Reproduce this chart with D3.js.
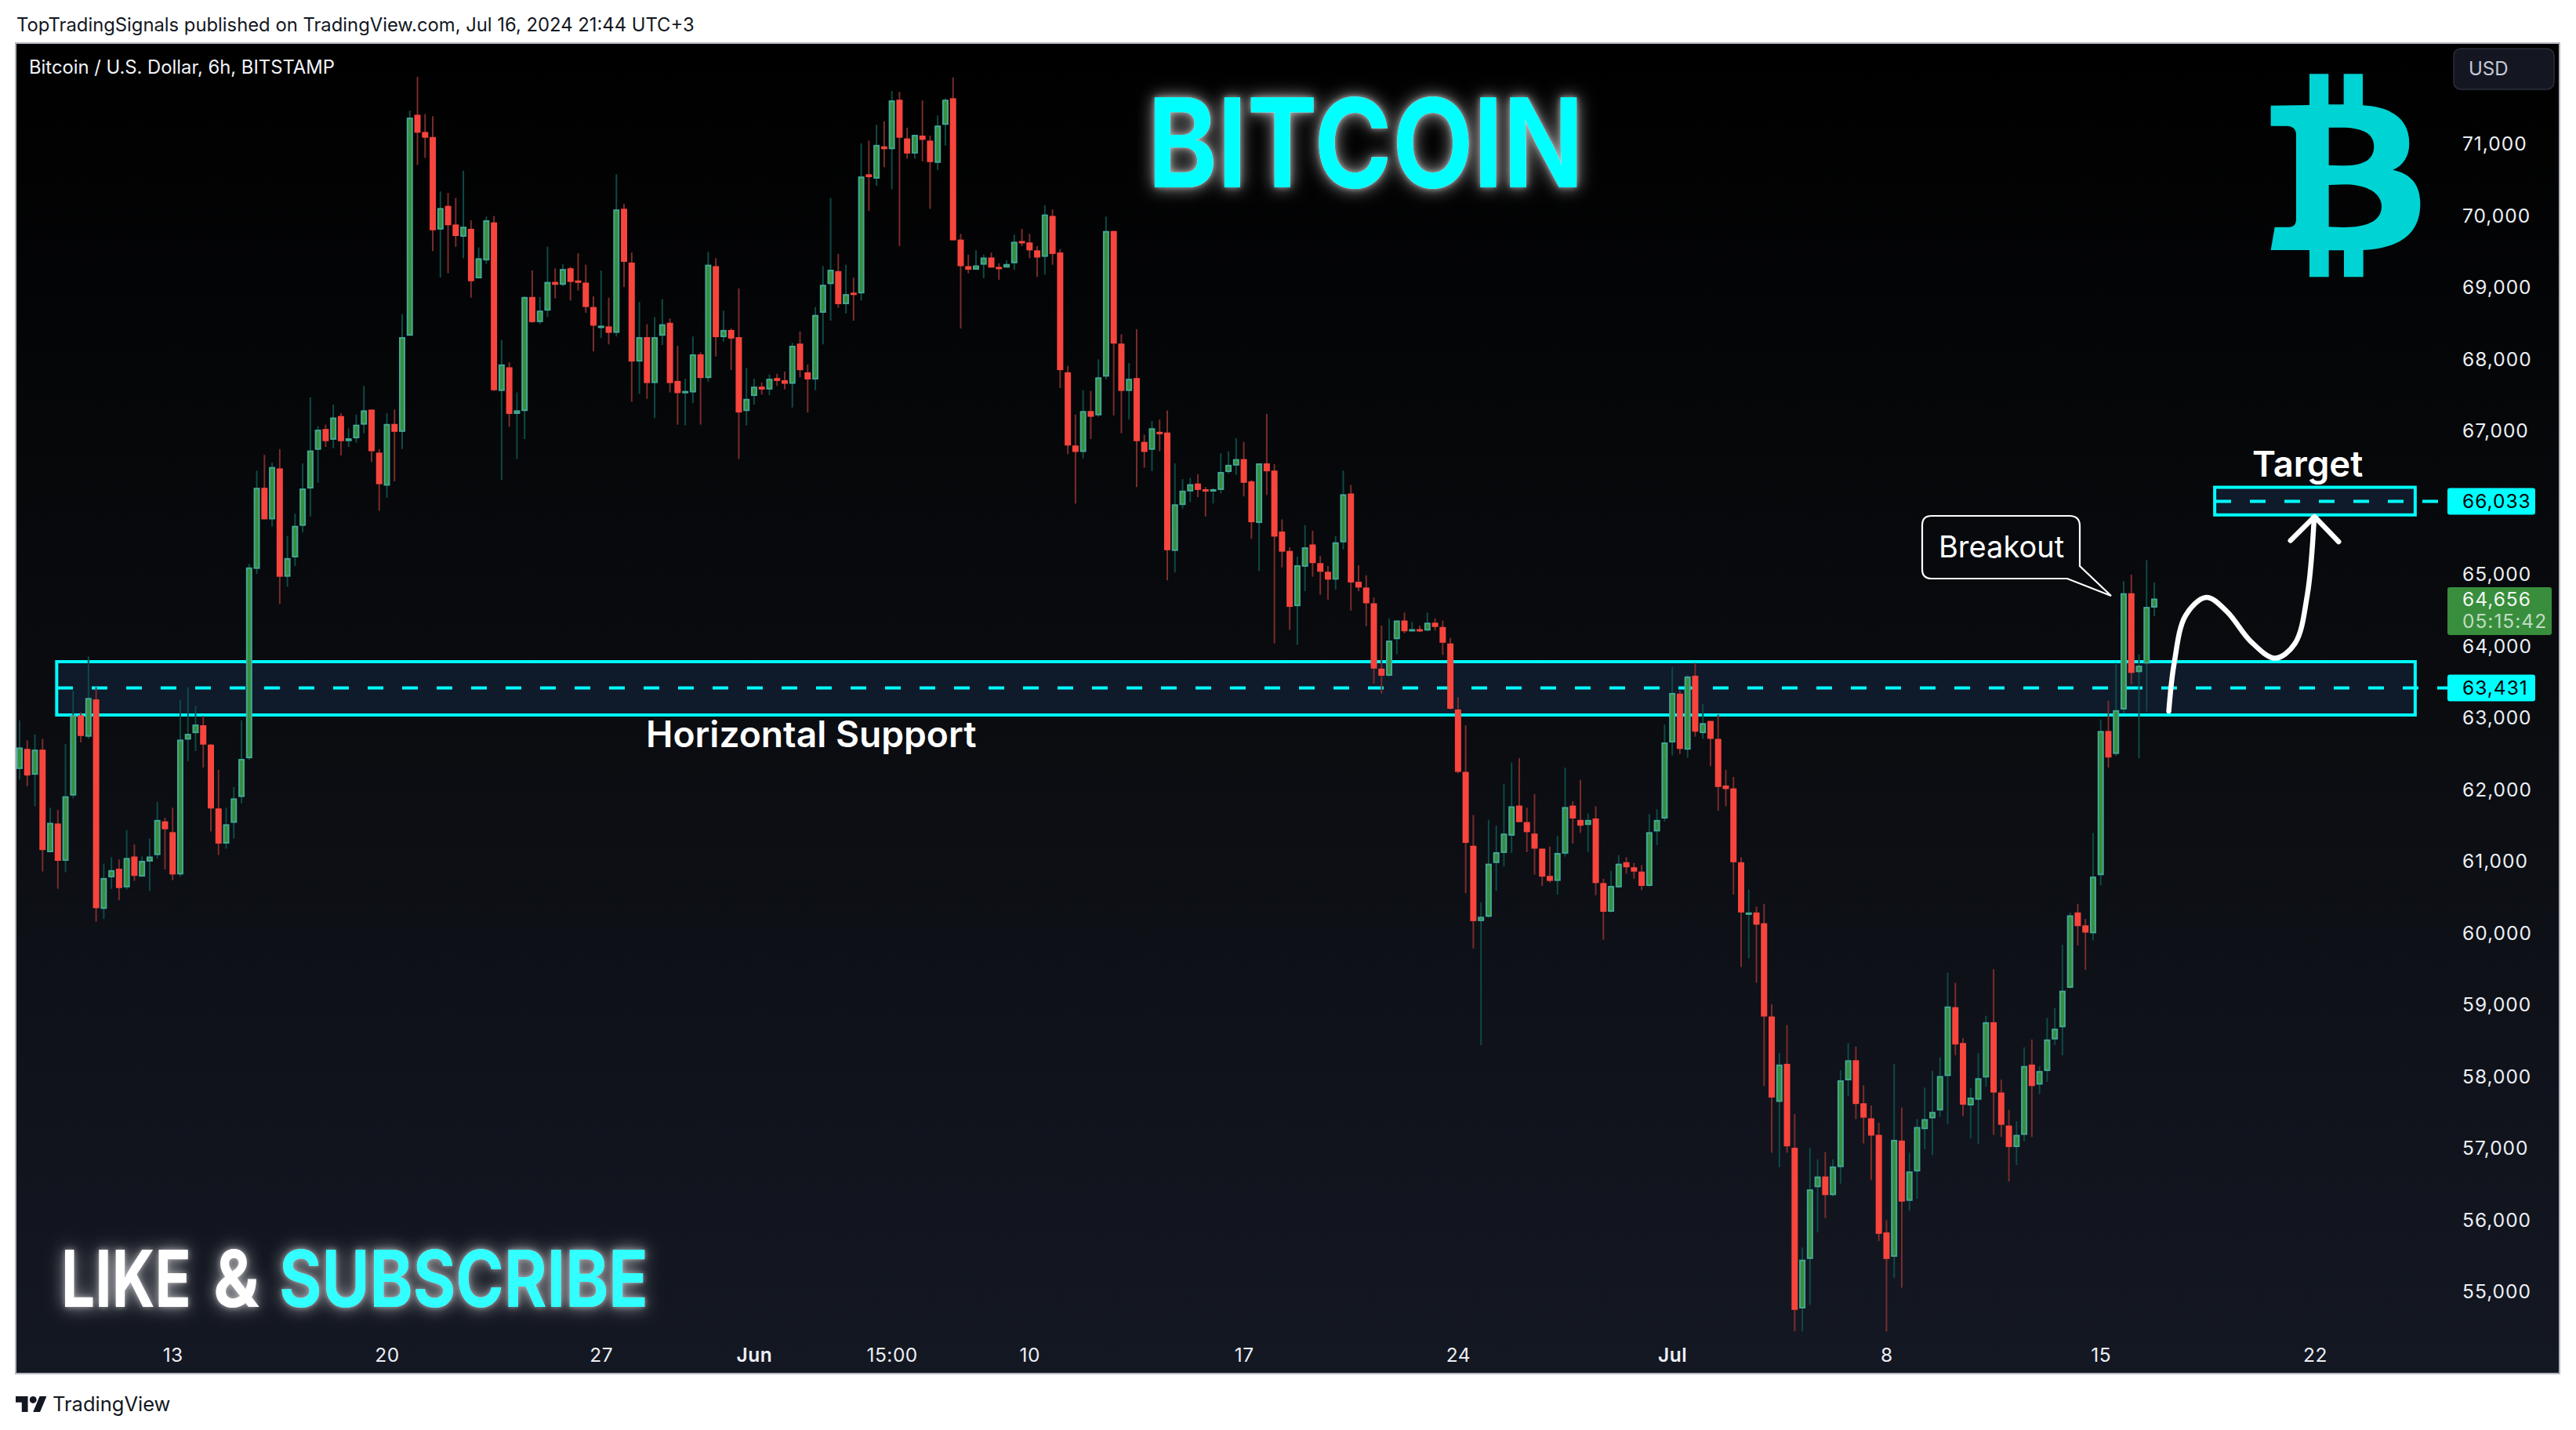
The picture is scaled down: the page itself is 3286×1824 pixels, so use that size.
<!DOCTYPE html>
<html>
<head>
<meta charset="utf-8">
<title>Bitcoin / U.S. Dollar</title>
<script src="https://cdn.jsdelivr.net/npm/d3@7/dist/d3.min.js"></script>
<style>
html,body{margin:0;padding:0;background:#fff;overflow:hidden}
svg{display:block}
text{font-family:Inter,"Liberation Sans",sans-serif}
</style>
</head>
<body>
<svg id="c" width="3286" height="1824"></svg>
<script>
const opens=[62280,62560,62200,62550,61120,61520,61000,61910,63030,62730,
63250,60330,60770,60890,60630,61060,60780,60990,61080,61550,
61400,60810,62690,62780,62890,62620,61730,61240,61530,61890,
62430,65070,66200,65760,66470,64960,65230,65670,66190,66730,
67020,66870,67200,66850,66890,67080,67290,66690,66230,67090,
66980,68320,71400,71160,71090,69800,70130,69870,69700,69810,
69120,69370,69900,67550,67880,67230,67270,68860,68510,68670,
69070,69030,69260,69090,69060,68720,68440,68450,68360,70090,
69340,67960,68300,67660,68320,68500,67690,67530,67530,68060,
67730,69290,68300,68400,68300,67270,67480,67610,67570,67730,
67700,67650,68210,67810,67710,68640,69040,69220,68760,68920,
68910,70570,70510,70960,70920,71610,71070,70860,71110,71040,
70730,71260,71630,69660,69290,69240,69310,69410,69280,69270,
69330,69640,69620,69510,69420,69990,69480,67810,66790,66700,
67270,67210,67750,69780,68210,67550,67730,66840,66730,66980,
66970,65320,65960,66150,66260,66180,66160,66170,66420,66510,
66600,66290,65710,66540,66440,65590,65320,64550,65100,65410,
65150,65030,64920,65440,66120,64890,64810,64590,63680,63580,
64090,64350,64210,64230,64210,64320,64260,64030,63110,62240,
61210,60160,60220,60970,61110,61350,61770,61540,61380,61170,
60790,60720,61100,61770,61570,61500,61590,60690,60290,60630,
60980,60910,60850,60650,61410,61590,62650,63330,62550,63580,
62780,62950,62700,62050,62010,60980,60250,60280,60130,58830,
57640,58170,57000,54760,55450,56450,56600,56340,56730,57940,
58220,57620,57410,57180,55820,55480,57100,56260,56670,57260,
57410,57520,58000,58960,58460,57590,57670,57980,58750,57770,
57310,57010,57180,58160,57880,58070,58510,58680,59230,60280,
60100,59990,60800,62810,62490,63110,64730,63630,63750,64530];
const highs=[62960,62680,62760,62700,61740,61710,62630,63370,63070,63850,
63420,60960,61050,61020,61430,61230,61060,61310,61820,61600,
61740,63240,63420,63160,63020,62630,62270,61740,62030,62960,
65140,66440,66660,66550,66740,65530,65840,66540,67460,67060,
67080,67360,67240,67030,67220,67620,67290,66740,67240,67290,
68620,71460,71930,71410,71380,70330,70310,70240,70620,69930,
69550,69980,69990,68260,67950,67530,68870,69230,68860,69560,
69260,69320,69280,69470,69310,68870,69230,68850,70570,70160,
69480,68790,68480,68580,68830,68560,68180,67720,68310,68090,
69490,69400,68670,68420,68980,67870,67720,67670,67780,67790,
67820,68220,68380,67920,68720,69290,70240,69460,69310,69130,
71000,71040,71260,71310,71730,71720,71220,71120,71600,71110,
71390,71630,71920,69740,69450,69510,69450,69480,69330,69370,
69730,69810,69740,69570,70140,70080,69530,67900,67220,67560,
67550,67990,69980,69780,68340,67940,68410,66940,67130,67150,
67280,66540,66320,66340,66390,66210,66200,66680,66710,66890,
66840,66310,66540,67230,66530,65760,65370,65240,65680,65600,
65250,65110,65530,66440,66240,65120,64980,64670,64280,64380,
64350,64460,64330,64280,64460,64380,64350,64110,63280,62890,
61640,60420,61570,61490,62070,62370,62430,61740,61930,61170,
61200,61350,62300,61830,62130,61660,61760,60750,60860,61080,
61050,60970,60940,61650,61720,62900,63700,63370,63590,63760,
63190,62950,63040,62270,62170,61050,60600,60360,60400,59000,
58320,58710,57470,55610,57000,56840,56940,56840,58080,58460,
58410,57870,57590,57350,55990,58170,57560,56930,57400,57840,
58070,58260,59440,59300,58530,57830,58320,58840,59490,57950,
57530,57370,58400,58510,58140,58810,58950,59830,60280,60400,
60190,61390,62970,63230,63760,64900,64990,63880,65190,64880];
const lows=[62130,62040,61760,60850,61120,60610,60840,61870,62650,62700,
60150,60190,60610,60450,60600,60720,60780,60580,61030,60880,
60730,60780,62390,62530,62300,61410,61080,61170,61310,61800,
62410,65000,65760,65660,64580,64820,65110,65580,65800,66270,
66770,66750,66650,66770,66830,66960,66560,65880,66060,66290,
66740,68320,70700,70800,69500,69130,69190,69560,69400,68850,
69120,69320,67550,66310,67050,66600,66880,68500,68480,68580,
68840,69010,68810,68950,68640,68100,68290,68200,68310,69000,
67400,67510,67440,67170,68190,67530,67080,67070,67380,67080,
67680,68030,68240,67840,66600,67070,67360,67500,67490,67620,
67570,67320,67740,67250,67560,68200,68530,68710,68630,68530,
68810,70060,70410,70670,70360,69570,70790,70790,70750,70090,
70630,70970,69650,68420,69190,69240,69120,69270,69100,69270,
69240,69570,69400,69140,69170,69310,67590,66670,65980,66610,
66880,67190,67710,67210,66960,67150,66210,66480,66430,66710,
64910,65020,65910,66000,66070,65800,65980,66120,66400,66380,
66080,65490,65040,66100,64030,65090,64220,64010,64760,64960,
64710,64640,64780,65340,64490,64760,64270,63470,63330,63570,
63880,64170,64200,64190,64200,64210,63870,63110,62220,60550,
59780,58430,60210,60580,60920,61110,61540,61120,60810,60650,
60700,60530,61060,61240,61390,61120,60520,59900,60280,60620,
60820,60750,60590,60640,61220,61550,62470,62490,62440,62730,
62700,62320,61700,61760,60530,59520,59640,59300,57860,56930,
56730,56930,54440,54440,54810,55820,56020,56320,56500,57720,
57400,57060,56550,55700,54440,55190,55050,56120,56290,56980,
56900,57430,57330,58290,57440,57130,57050,57850,57180,57150,
56530,56760,57090,57150,57750,57920,58430,58290,59220,59820,
59480,59890,60660,62300,62460,63060,63460,62430,63080,64410];
const closes=[62580,62190,62550,61150,61530,61000,61900,63030,62740,63270,
60340,60760,60870,60620,61040,60790,61000,61060,61570,61440,
60810,62690,62770,62900,62620,61730,61240,61510,61870,62420,
65090,66200,65760,66490,64960,65220,65670,66190,66720,67010,
66850,67180,66850,66890,67080,67280,66710,66250,67090,66980,
68300,71360,71150,71080,69790,70100,69860,69710,69840,69080,
69400,69930,67560,67920,67230,67280,68860,68510,68670,69070,
69030,69250,69070,69060,68720,68460,68460,68360,70080,69350,
67960,68300,67660,68300,68480,67660,67520,67550,68060,67730,
69310,68300,68400,68280,67250,67440,67610,67570,67720,67690,
67650,68180,67840,67710,68610,69030,69240,68760,68900,68900,
70540,70530,70980,70920,71600,71080,70860,71120,71050,70740,
71250,71610,69650,69290,69240,69300,69410,69270,69270,69320,
69630,69630,69510,69410,70010,69460,67840,66790,66700,67270,
67190,67740,69780,68210,67550,67720,66850,66700,67030,66950,
65330,65970,66160,66250,66170,66150,66180,66420,66520,66600,
66270,65720,66540,66430,65520,65310,64540,65120,65370,65150,
65030,64920,65440,66110,64880,64810,64590,63680,63580,64070,
64350,64200,64230,64210,64320,64260,64040,63120,62240,61250,
60160,60220,60960,61120,61380,61760,61540,61400,61170,60780,
60720,61110,61750,61590,61490,61570,60690,60290,60650,60960,
60910,60850,60650,61400,61570,62650,63340,62560,63570,62800,
62920,62700,62030,62000,60980,60280,60280,60110,58830,57700,
58160,57020,54740,55440,56420,56600,56340,56740,57940,58220,
57610,57420,57170,55800,55450,57110,56250,56670,57290,57400,
57500,58000,58970,58440,57600,57700,57970,58750,57770,57320,
57010,57180,58140,57860,58070,58510,58660,59190,60240,60090,
60000,60780,62810,62440,63100,64730,63620,63720,64540,64656];

const priceTicks=[55000,56000,57000,58000,59000,60000,61000,62000,63000,64000,65000,67000,68000,69000,70000,71000];
const timeTickBars=[20,48,76,96,114,132,160,188,216,244,272,300];
const timeTickLabels=["13","20","27","Jun","15:00","10","17","24","Jul","8","15","22"];
const boldTimeLabels=["Jun","Jul"];

const supportLevel=63431, targetLevel=66033, lastPrice=64656;
const supportZone=[63033,63776], targetZone=[65822,66207];
const pathBars=[280.9,281.6,283.1,285.8,288.5,291.6,294.8,297.4,299,299.9];
const pathPrices=[63087,63754,64421,64672,64475,64060,63825,64032,64705,65787];
const headBars=[296.8,299.95,303.1];
const headPrices=[65464,65798,65448];

const svg=d3.select("#c");
const x=d3.scaleLinear().domain([0,300]).range([25,2953]);
const y=d3.scaleLinear().domain([55000,71000]).range([1647,183]);

const defs=svg.append("defs");
const bg=defs.append("linearGradient").attr("id","bg").attr("x1",0).attr("x2",0).attr("y1",0).attr("y2",1);
bg.append("stop").attr("offset","0%").attr("stop-color","#000000");
bg.append("stop").attr("offset","50%").attr("stop-color","#0a0c10");
bg.append("stop").attr("offset","100%").attr("stop-color","#141823");
const gl=defs.append("filter").attr("id","glow").attr("filterUnits","userSpaceOnUse").attr("x",0).attr("y",0).attr("width",3286).attr("height",1824);
gl.html(`<feGaussianBlur in="SourceAlpha" stdDeviation="11" result="b1"/>
<feFlood flood-color="#fff" flood-opacity="0.62"/><feComposite in2="b1" operator="in" result="g1"/>
<feGaussianBlur in="SourceAlpha" stdDeviation="3.5" result="b2"/>
<feFlood flood-color="#fff" flood-opacity="0.5"/><feComposite in2="b2" operator="in" result="g2"/>
<feMerge><feMergeNode in="g1"/><feMergeNode in="g2"/><feMergeNode in="SourceGraphic"/></feMerge>`);
defs.append("clipPath").attr("id","pane").append("rect").attr("x",20).attr("y",55).attr("width",3245).attr("height",1697);

// page and pane
svg.append("rect").attr("width",3286).attr("height",1824).attr("fill","#ffffff");
svg.append("rect").attr("x",20).attr("y",55).attr("width",3245).attr("height",1697)
  .attr("fill","url(#bg)").attr("stroke","#b2b5be").attr("stroke-width",2);

svg.append("text").attr("x",21).attr("y",40).attr("font-size",23.8).attr("fill","#131722")
  .text("TopTradingSignals published on TradingView.com, Jul 16, 2024 21:44 UTC+3");
svg.append("text").attr("x",37).attr("y",94).attr("font-size",23.8).attr("fill","#f0f3fa")
  .text("Bitcoin / U.S. Dollar, 6h, BITSTAMP");

const plot=svg.append("g").attr("clip-path","url(#pane)");

// zones
const zoneGroup=plot.append("g");
function zone(levels,left,right,sw){
  zoneGroup.append("rect").attr("x",left).attr("width",right-left)
    .attr("y",y(levels[1])).attr("height",y(levels[0])-y(levels[1]))
    .attr("fill","#0f1a2a").attr("stroke","#00ffff").attr("stroke-width",sw);
}
zone(supportZone,x(4.85),x(313.1),4);
zone(targetZone,x(286.9),x(313.1),4);
function dashed(level,left,right){
  zoneGroup.append("line").attr("x1",left).attr("x2",right).attr("y1",y(level)+2).attr("y2",y(level)+2)
    .attr("stroke","#00ffff").attr("stroke-width",4).attr("stroke-dasharray","20 24");
}
dashed(supportLevel,73,3122);
dashed(targetLevel,2826,3122);

// candles
const bars=d3.range(opens.length).map(i=>({i,o:opens[i],h:highs[i],l:lows[i],c:closes[i],up:closes[i]>=opens[i]}));
const cg=plot.append("g");
cg.selectAll("line.w").data(bars).join("line").attr("class","w")
  .attr("x1",d=>x(d.i)).attr("x2",d=>x(d.i)).attr("y1",d=>y(d.h)).attr("y2",d=>y(d.l))
  .attr("stroke",d=>d.up?"#0d4a45":"#7a2c2c").attr("stroke-width",2);
cg.selectAll("rect.b").data(bars).join("rect").attr("class","b")
  .attr("x",d=>x(d.i)-3)
  .attr("width",6)
  .attr("y",d=>y(Math.max(d.o,d.c))+1)
  .attr("height",d=>Math.max(1,Math.abs(y(d.o)-y(d.c))-2))
  .attr("fill",d=>d.up?"#388e3c":"#f7453d")
  .attr("stroke",d=>d.up?"#42a894":"#f7453d").attr("stroke-width",2);

// price axis
const ya=d3.axisRight(y).tickValues(priceTicks).tickFormat(d3.format(",")).tickSize(0).tickPadding(0);
const yg=svg.append("g").attr("transform","translate(3141,0)").call(ya);
yg.select(".domain").remove();
yg.selectAll("text").attr("font-size",24.5).attr("letter-spacing",1).attr("fill","#eceff5").attr("font-family","Inter,sans-serif").attr("dy","0.36em");

// time axis
const xa=d3.axisBottom(x).tickValues(timeTickBars).tickFormat((d,i)=>timeTickLabels[i]).tickSize(0).tickPadding(0);
const xg=svg.append("g").attr("transform","translate(0,1728)").call(xa);
xg.select(".domain").remove();
xg.selectAll("text").attr("font-size",24.5).attr("letter-spacing",0.5).attr("fill","#eceff5").attr("font-family","Inter,sans-serif").attr("dy","0.36em")
  .attr("font-weight",(d,i)=>boldTimeLabels.includes(timeTickLabels[i])?600:400);

// USD box
svg.append("rect").attr("x",3130).attr("y",62).attr("width",128).attr("height",52).attr("rx",9)
  .attr("fill","#141722").attr("stroke","#2a2e39").attr("stroke-width",1.5);
svg.append("text").attr("x",3149).attr("y",96).attr("font-size",24).attr("fill","#c7cad6").text("USD");

// price labels
function priceBox(level,w,h){
  const c=y(level)+2;
  svg.append("rect").attr("x",3122).attr("y",c-h/2).attr("width",w).attr("height",h).attr("rx",3).attr("fill","#00ffff");
  svg.append("text").attr("x",3141).attr("y",c+8.5).attr("font-size",24.5).attr("letter-spacing",1).attr("fill","#000").text(d3.format(",")(level));
}
priceBox(targetLevel,112,34);
priceBox(supportLevel,112,34);
svg.append("rect").attr("x",3122).attr("y",749).attr("width",133).attr("height",61).attr("rx",3).attr("fill","#388e3c");
svg.append("text").attr("x",3141).attr("y",773).attr("font-size",24.5).attr("letter-spacing",1).attr("fill","#f2f7f2").text(d3.format(",")(lastPrice));
svg.append("text").attr("x",3141).attr("y",801).attr("font-size",24.5).attr("letter-spacing",1).attr("fill","#c0dcc2").text("05:15:42");

// hand-drawn path and arrow head
const pathPts=pathBars.map((b,i)=>[b,pathPrices[i]]);
plot.append("path").attr("d",d3.line().x(d=>x(d[0])).y(d=>y(d[1])).curve(d3.curveCatmullRom.alpha(0.5))(pathPts))
  .attr("fill","none").attr("stroke","#fff").attr("stroke-width",6.5).attr("stroke-linecap","round");
const headPts=headBars.map((b,i)=>[b,headPrices[i]]);
plot.append("path").attr("d",d3.line().x(d=>x(d[0])).y(d=>y(d[1]))(headPts))
  .attr("fill","none").attr("stroke","#fff").attr("stroke-width",6.5).attr("stroke-linecap","round").attr("stroke-linejoin","round");

// callout
svg.append("path").attr("d","M2464,658 H2640 Q2653,658 2653,671 V722 L2693,760 L2637,738 H2464 Q2452,738 2452,726 V670 Q2452,658 2464,658 Z")
  .attr("fill","#07090d").attr("stroke","#fff").attr("stroke-width",2.2).attr("stroke-linejoin","miter");
svg.append("text").attr("x",2473).attr("y",711).attr("font-size",38).attr("fill","#fff").text("Breakout");

// annotation text
svg.append("text").attr("x",824).attr("y",953).attr("font-size",46.2).attr("font-weight",600).attr("fill","#fff").text("Horizontal Support");
svg.append("text").attr("x",2873).attr("y",608).attr("font-size",45.5).attr("font-weight",600).attr("fill","#fff").text("Target");

// condensed display text: narrowed to the reference width with a horizontal scale
function condensed(parent,str,left,base,size,width,fill){
  const t=parent.append("text").attr("font-family","Liberation Sans").attr("font-weight",700)
    .attr("font-size",size).attr("fill",fill).text(str);
  const sx=width/t.node().getComputedTextLength();
  t.attr("transform",`translate(${left},${base}) scale(${sx},1)`);
}
const head=svg.append("g").attr("filter","url(#glow)");
condensed(head,"BITCOIN",1464,239,158,556,"#00ffff");
const like=svg.append("g").attr("filter","url(#glow)");
condensed(like,"LIKE",78,1667,100,166,"#ffffff");
condensed(like,"&",272,1667,100,59,"#ffffff");
condensed(like,"SUBSCRIBE",356,1667,100,471,"#33ffff");

// bitcoin logo
svg.append("path").attr("transform","translate(2800,0) scale(0.3333)").attr("fill","#00d3d3").attr("fill-rule","evenodd")
 .attr("d","M290,404 L438,402 L438,283 L511,283 L511,400 L569,400 L569,283 L642,283 L642,403 C760,410 820,460 820,548 C820,600 795,635 757,650 C830,665 862,710 862,780 C862,890 790,950 644,957 L644,1060 L570,1060 L570,958 L512,958 L512,1060 L438,1060 L438,957 L290,957 L305,869 L360,869 C380,869 387,855 387,840 L387,515 C387,495 375,482 350,482 L290,482 Z M512,488 L560,488 C640,488 685,510 685,560 C685,615 640,634 560,634 L512,632 Z M512,708 L570,706 C660,706 714,740 714,790 C714,850 650,870 570,870 L512,868 Z");

// footer
svg.append("g").attr("transform","translate(20,1776.6) scale(1.11)").attr("fill","#131722").html('<path d="M14 22H7V11H0V4h14v18zM28 22h-8l7.5-18h8L28 22z"/><circle cx="20" cy="8" r="4"/>');
svg.append("text").attr("x",67).attr("y",1800).attr("font-size",25.5).attr("fill","#131722").text("TradingView");
</script>
</body>
</html>
